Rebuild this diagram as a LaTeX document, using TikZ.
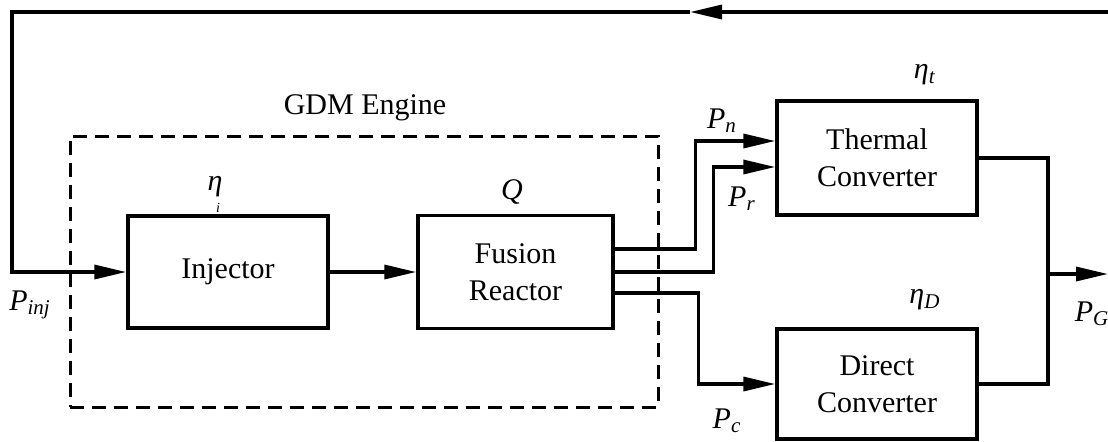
\documentclass[tikz,border=0pt]{standalone}
\usepackage{fontspec}
\setmainfont{Liberation Serif}
\usetikzlibrary{arrows.meta}
\newcommand{\sym}[2]{\textit{#1}\textsubscript{\textit{#2}}}
\tikzset{
  blk/.style  = {rectangle, draw=black, line width=1.7pt, align=center,
                 font=\fontsize{15}{18.5}\selectfont, inner sep=1pt},
  grp/.style  = {rectangle, draw=black, line width=1.5pt,
                 dash pattern=on 7pt off 4pt},
  ln/.style   = {draw=black, line width=1.7pt},
  arr/.style  = {-{Triangle[length=16pt,width=7pt]}, draw=black, line width=1.7pt},
  lbl/.style  = {font=\fontsize{15}{18}\selectfont, inner sep=1pt},
}
\begin{document}
\begin{tikzpicture}[x=0.5pt,y=-0.5pt]
  \useasboundingbox (0,0) rectangle (1108,441);
  \node[grp, minimum width=294pt, minimum height=135.5pt] (eng) at (364,271.5) {};
  \node[lbl] (englbl) at (365,108) {GDM Engine};
  \node[blk, minimum width=100pt, minimum height=56pt] (inj) at (228,272) {Injector};
  \node[blk, minimum width=97.5pt, minimum height=56.5pt] (reac) at (515.5,272) {Fusion\\Reactor};
  \node[blk, minimum width=100pt, minimum height=57pt] (therm) at (877,158) {Thermal\\Converter};
  \node[blk, minimum width=100pt, minimum height=55pt] (dirc) at (877,384) {Direct\\Converter};
  % efficiencies and gain
  \node[lbl] (etai) at (215,187) {\textit{η}};
  \node[lbl, font=\fontsize{7}{8}\selectfont] (etaisub) at (218,208) {\textit{i}};
  \node[lbl] (gain) at (512,192) {\textit{Q}};
  \node[lbl] (etat) at (925,75) {\sym{η}{t}};
  \node[lbl] (etad) at (925,300) {\sym{η}{D}};
  % power labels
  \node[lbl] (pn) at (722,121) {\sym{P}{n}};
  \node[lbl] (pr) at (742,199) {\sym{P}{r}};
  \node[lbl] (pc) at (727,421) {\sym{P}{c}};
  \node[lbl] (pinj) at (30,305) {\sym{P}{inj}};
  \node[lbl] (pg) at (1092,314) {\sym{P}{G}};
  % recirculated power
  \coordinate (fbR) at (1108,12);
  \coordinate (fbM) at (690,12);
  \coordinate (fbL) at (12,12);
  \draw[arr] (fbR) -- (fbM);
  \draw[arr] (fbM) -- (fbL) |- (inj.west);
  \draw[arr] (inj.east) -- (reac.west);
  % reactor outputs
  \draw[arr] ([yshift=11.5pt]reac.east) -- ++(40.5pt,0) |- ([yshift=8.5pt]therm.west);
  \draw[arr] (reac.east) -- ++(49.5pt,0) |- ([yshift=-4.5pt]therm.west);
  \draw[arr] ([yshift=-10.5pt]reac.east) -- ++(42pt,0) |- (dirc.west);
  % gross electric output
  \coordinate (jn) at (1048,274);
  \coordinate (out) at (1108,274);
  \draw[ln] (therm.east) -| (jn);
  \draw[ln] (dirc.east) -| (jn);
  \draw[arr] (jn) -- (out);
\end{tikzpicture}
\end{document}
